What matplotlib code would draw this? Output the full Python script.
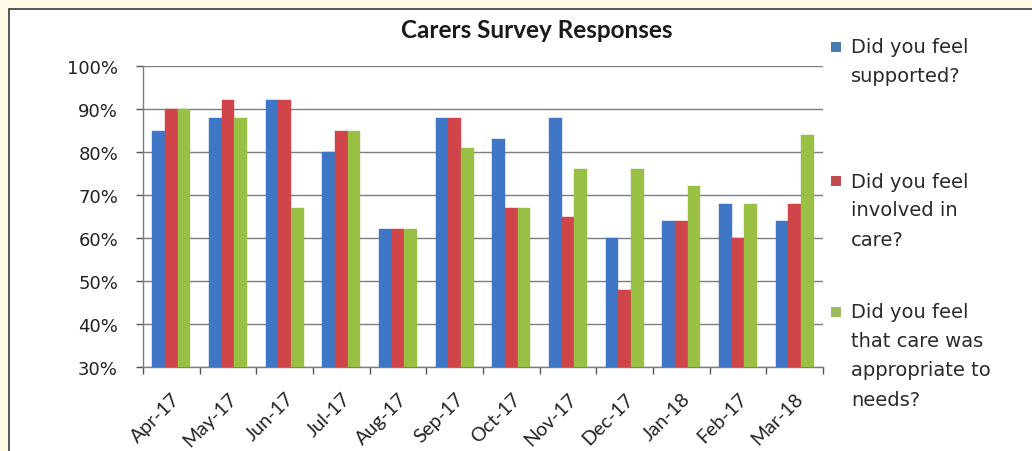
import matplotlib
matplotlib.use("Agg")
import matplotlib.pyplot as plt
from matplotlib.patches import Rectangle
from matplotlib.ticker import FixedLocator, FuncFormatter
import numpy as np

# ---- data ----
months = ["Apr-17", "May-17", "Jun-17", "Jul-17", "Aug-17", "Sep-17",
          "Oct-17", "Nov-17", "Dec-17", "Jan-18", "Feb-17", "Mar-18"]
supported = [85, 88, 92, 80, 62, 88, 83, 88, 60, 64, 68, 64]
involved = [90, 92, 92, 85, 62, 88, 67, 65, 48, 64, 60, 68]
appropriate = [90, 88, 67, 85, 62, 81, 67, 76, 76, 72, 68, 84]
series_names = ["Did you feel\nsupported?",
                "Did you feel\ninvolved in\ncare?",
                "Did you feel\nthat care was\nappropriate to\nneeds?"]
title = "Carers Survey Responses"

bar_colors = ["#3f77c6", "#d0454a", "#99bf45"]
legend_colors = ["#4a7ab2", "#c24a4e", "#9cbb5e"]

W, H = 1032, 452
fig = plt.figure(figsize=(W / 100, H / 100), dpi=100)
fig.patch.set_facecolor("#fff9e6")

# white chart panel with dark frame
panel = Rectangle((9 / W, -0.05), 1.2, 1 - 10 / H + 0.05, transform=fig.transFigure,
                  facecolor="white", edgecolor="#3a3a3a", linewidth=1.2, zorder=-5)
fig.patches.append(panel)

ax = fig.add_axes([143 / W, 1 - 368 / H, (823 - 143) / W, (368 - 67) / H])
ax.set_facecolor("none")
ax.set_zorder(2)

x = np.arange(len(months))
n = 3
w = 1 / (n + 1.5)
for i, (vals, col) in enumerate(zip([supported, involved, appropriate], bar_colors)):
    ax.bar(x + (i - 1) * w, vals, width=w, color=col, edgecolor=col,
           linewidth=0.3, zorder=3)

ax.set_xlim(-0.5, len(months) - 0.5)
ax.set_ylim(30, 100)
ax.yaxis.set_major_locator(FixedLocator(np.arange(30, 101, 10)))
ax.yaxis.set_major_formatter(FuncFormatter(lambda v, p: f"{v:.0f}%"))
ax.grid(axis="y", color="#7d7d7d", linewidth=1.0, zorder=1)
ax.set_axisbelow(True)

for s in ["top", "right"]:
    ax.spines[s].set_visible(False)
for s in ["left", "bottom"]:
    ax.spines[s].set_color("#7d7d7d")
    ax.spines[s].set_linewidth(1.0)

ax.set_xticks(x)
ax.set_xticklabels(months, rotation=45, ha="right", va="top",
                   rotation_mode="anchor", fontsize=14, family="Lato",
                   color="#222222")
ax.tick_params(axis="x", which="major", length=0, pad=16)
ax.set_xticks(np.arange(-0.5, len(months), 1), minor=True)
ax.tick_params(axis="x", which="minor", length=5, width=1, color="#555555",
               direction="out")
ax.tick_params(axis="y", length=5, width=1, color="#555555", pad=13,
               labelsize=13, labelcolor="#222222")

fig.text(537 / W, 1 - 31 / H, title, ha="center", va="center",
         fontsize=17.5, fontweight="bold", family="Lato", color="#1a1a1a")

# legend
first_line_y = [48, 182, 313]
line_step = 29
for name, col, y0 in zip(series_names, legend_colors, first_line_y):
    fig.patches.append(Rectangle((831 / W, 1 - (y0 + 5) / H), 10 / W, 10 / H,
                                 transform=fig.transFigure, facecolor=col,
                                 edgecolor="none"))
    for k, line in enumerate(name.split("\n")):
        fig.text(851 / W, 1 - (y0 + k * line_step) / H, line, ha="left",
                 va="center", fontsize=14, color="#2a2a2a")

fig.savefig("out.png", dpi=100, facecolor=fig.get_facecolor())
